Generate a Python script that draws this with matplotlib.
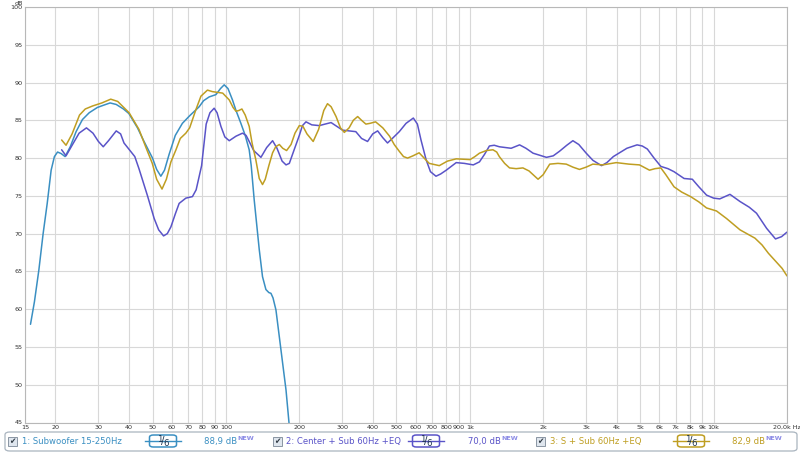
import matplotlib
matplotlib.use("Agg")
import matplotlib.pyplot as plt
from matplotlib.patches import FancyBboxPatch, Rectangle
from matplotlib.lines import Line2D

# ---------------- data ----------------
sub_freq = [15.8, 16.4, 17.1, 17.8, 18.5, 19.2, 19.8, 20.4, 21.1, 21.9, 23.0, 24.3, 25.8,
            27.5, 29.7, 31.5, 33.5, 35.5, 38.0, 40.0, 43.4, 46.0, 50.0, 52.0, 54.1, 56.0,
            58.5, 62.0, 66.3, 71.0, 77.7, 81.0, 85.4, 91.0, 95.0, 98.4, 102.0, 106.4,
            110.0, 115.2, 120.0, 124.6, 127.0, 130.6, 137.0, 141.3, 145.9, 150.0, 153.0,
            156.0, 160.4, 168.2, 176.4, 182.0]
sub_db = [58.0, 61.0, 65.2, 70.0, 74.0, 78.4, 80.2, 80.8, 80.6, 80.2, 81.5, 83.5, 85.1,
          86.0, 86.7, 87.0, 87.3, 87.1, 86.5, 85.9, 84.0, 82.3, 80.0, 78.5, 77.6, 78.4,
          80.5, 83.0, 84.6, 85.6, 86.8, 87.6, 88.1, 88.4, 89.2, 89.7, 89.2, 87.7,
          86.3, 84.6, 83.0, 81.1, 79.0, 74.5, 67.9, 64.3, 62.6, 62.2, 62.1,
          61.5, 59.9, 54.6, 49.3, 44.5]

ctr_freq = [21.2, 22.1, 23.5, 25.0, 26.8, 28.5, 30.0, 31.4, 33.0, 35.5, 37.0, 38.2, 42.3,
            44.0, 47.7, 50.8, 53.0, 55.5, 57.5, 59.5, 62.0, 64.3, 68.5, 72.9, 75.5, 79.5,
            83.0, 86.0, 89.5, 92.0, 95.4, 99.0, 103.2, 110.0, 117.0, 121.0, 124.6, 130.0,
            139.2, 147.0, 155.4, 162.0, 170.0, 176.4, 182.0, 190.0, 200.0, 206.0, 213.0,
            225.0, 241.7, 255.0, 270.0, 285.0, 301.0, 320.0, 341.0, 360.0, 381.0, 400.0,
            419.0, 440.0, 460.0, 485.0, 514.0, 548.0, 587.0, 610.0, 631.0, 662.0, 690.0,
            727.0, 760.0, 801.0, 880.0, 950.0, 1034.0, 1096.0, 1150.0, 1204.0, 1260.0,
            1322.0, 1478.0, 1601.0, 1700.0, 1818.0, 2063.0, 2200.0, 2333.0, 2500.0, 2648.0,
            2800.0, 3003.0, 3200.0, 3470.0, 3650.0, 3880.0, 4410.0, 4855.0, 5100.0, 5349.0,
            5700.0, 6077.0, 6500.0, 6882.0, 7568.0, 8180.0, 8700.0, 9355.0, 10000.0,
            10600.0, 11673.0, 12836.0, 14000.0, 14999.0, 16500.0, 17940.0, 19000.0, 20000.0]
ctr_db = [81.1, 80.3, 81.8, 83.3, 84.0, 83.3, 82.2, 81.5, 82.3, 83.6, 83.2, 82.0, 80.2,
          78.6, 75.0, 72.0, 70.5, 69.7, 70.0, 70.9, 72.6, 74.0, 74.7, 74.9, 75.8, 79.0,
          84.5, 86.0, 86.6, 86.0, 84.2, 82.8, 82.3, 82.9, 83.3, 83.0, 82.2, 81.0,
          80.1, 81.4, 82.3, 81.3, 79.6, 79.1, 79.3, 81.0, 83.0, 84.3, 84.8,
          84.4, 84.3, 84.5, 84.7, 84.2, 83.7, 83.6, 83.5, 82.6, 82.2, 83.2,
          83.6, 82.7, 82.0, 82.7, 83.5, 84.6, 85.3, 84.5, 82.4, 79.8, 78.2,
          77.6, 77.9, 78.4, 79.4, 79.3, 79.1, 79.5, 80.5, 81.6, 81.7,
          81.5, 81.3, 81.75, 81.3, 80.65, 80.1, 80.3, 80.9, 81.7, 82.3,
          81.8, 80.65, 79.7, 79.0, 79.4, 80.2, 81.3, 81.75, 81.6, 81.2,
          80.0, 78.9, 78.6, 78.2, 77.3, 77.2, 76.2, 75.1, 74.7,
          74.6, 75.2, 74.25, 73.5, 72.7, 70.7, 69.3, 69.6, 70.2]

sur_freq = [21.2, 22.1, 23.4, 25.1, 26.5, 28.4, 31.0, 33.7, 36.0, 40.1, 44.0, 47.0, 49.9,
            52.0, 54.7, 57.0, 59.5, 62.4, 65.0, 68.5, 71.0, 75.3, 79.0, 84.0, 88.0, 92.4,
            97.0, 103.2, 107.0, 110.0, 113.0, 116.3, 120.0, 124.6, 128.0, 132.6, 137.0,
            141.3, 145.0, 150.0, 155.4, 160.0, 165.6, 171.0, 177.4, 185.0, 192.0, 200.0,
            207.0, 215.0, 228.0, 240.0, 252.0, 261.0, 270.0, 283.0, 295.0, 306.0, 320.0,
            333.0, 347.0, 360.0, 375.0, 390.0, 411.0, 440.0, 469.0, 490.0, 514.0, 535.0,
            556.0, 585.0, 620.0, 650.0, 682.0, 750.0, 810.0, 880.0, 1003.0, 1050.0,
            1096.0, 1170.0, 1245.0, 1290.0, 1322.0, 1390.0, 1456.0, 1550.0, 1652.0,
            1750.0, 1906.0, 2000.0, 2128.0, 2300.0, 2488.0, 2650.0, 2818.0, 3000.0,
            3196.0, 3513.0, 3987.0, 4500.0, 4967.0, 5459.0, 5750.0, 6077.0, 6370.0,
            6882.0, 7400.0, 8050.0, 8700.0, 9355.0, 10280.0, 11300.0, 12836.0, 14780.0,
            15800.0, 16780.0, 19100.0, 20000.0]
sur_db = [82.4, 81.7, 83.2, 85.7, 86.5, 86.9, 87.3, 87.8, 87.5, 86.0, 83.8, 81.4, 79.3,
          77.2, 75.9, 77.2, 79.5, 81.1, 82.6, 83.3, 84.0, 86.4, 88.2, 89.0, 88.8, 88.7,
          88.6, 87.7, 86.7, 86.2, 86.3, 86.5, 85.7, 84.2, 82.0, 79.8, 77.3,
          76.5, 77.2, 79.0, 80.7, 81.5, 81.8, 81.3, 81.0, 81.8, 83.3, 84.3,
          84.2, 83.2, 82.2, 83.8, 86.3, 87.2, 86.8, 85.5, 84.0, 83.4, 84.0,
          85.0, 85.5, 85.0, 84.5, 84.6, 84.8, 84.0, 82.9, 81.8, 80.9, 80.2,
          80.0, 80.3, 80.7, 80.0, 79.3, 79.0, 79.6, 79.9, 79.8, 80.2,
          80.65, 81.0, 81.1, 80.8, 80.2, 79.3, 78.7, 78.6, 78.7,
          78.3, 77.2, 77.8, 79.2, 79.3, 79.2, 78.8, 78.5, 78.8,
          79.2, 79.1, 79.4, 79.2, 79.1, 78.4, 78.6, 78.7, 77.8,
          76.2, 75.5, 74.9, 74.2, 73.4, 73.0, 72.0, 70.5, 69.4,
          68.5, 67.4, 65.4, 64.4]

tick_freqs = [15, 20, 30, 40, 50, 60, 70, 80, 90, 100, 200, 300, 400, 500, 600, 700, 800,
              900, 1000, 2000, 3000, 4000, 5000, 6000, 7000, 8000, 9000, 10000, 20000]
tick_labels = ["15", "20", "30", "40", "50", "60", "70", "80", "90", "100", "200", "300",
               "400", "500", "600", "700", "800", "900", "1k", "2k", "3k", "4k", "5k",
               "6k", "7k", "8k", "9k", "10k", "20,0k Hz"]
y_ticks = [45, 50, 55, 60, 65, 70, 75, 80, 85, 90, 95, 100]

legend_names = ["1: Subwoofer 15-250Hz", "2: Center + Sub 60Hz +EQ", "3: S + Sub 60Hz +EQ"]
legend_levels = ["88,9 dB", "70,0 dB", "82,9 dB"]

# ---------------- style ----------------
C_SUB = "#3a8fc2"
C_CTR = "#5a54c8"
C_SUR = "#bf9e22"
GRID = "#d8d8d8"
TXT = "#333333"

W, H = 800, 453
fig = plt.figure(figsize=(W / 100, H / 100), dpi=100)
fig.patch.set_facecolor("white")

left, right, top, bottom = 25, 787, 7, 422.5
ax = fig.add_axes([left / W, (H - bottom) / H, (right - left) / W, (bottom - top) / H])
ax.set_xscale("log")
ax.set_xlim(15, 20000)
ax.set_ylim(45, 100)

kw = dict(lw=1.1, solid_joinstyle="round", solid_capstyle="round")
ax.plot(sub_freq, sub_db, color=C_SUB, **kw)
ax.plot(ctr_freq, ctr_db, color=C_CTR, **kw)
ax.plot(sur_freq, sur_db, color=C_SUR, **kw)

ax.set_xticks(tick_freqs)
ax.set_xticklabels(tick_labels)
ax.xaxis.set_minor_locator(matplotlib.ticker.NullLocator())
ax.set_yticks(y_ticks)
ax.set_yticklabels([str(v) for v in y_ticks])
ax.tick_params(axis="both", length=0, labelsize=4.6, colors=TXT)
ax.tick_params(axis="x", pad=1.5)
ax.tick_params(axis="y", pad=1.8)
ax.grid(True, which="major", color=GRID, lw=0.8)
ax.set_axisbelow(True)
for s in ax.spines.values():
    s.set_color("#b8b8b8")
    s.set_linewidth(0.8)

fig.text(19 / W, 1 - 1 / H, "dB", fontsize=4.6, color=TXT, ha="center", va="top")

# ---------------- legend strip ----------------
def fx(x):
    return x / W

def fy(y):
    return 1 - y / H

box = FancyBboxPatch((fx(5), fy(451)), fx(797) - fx(5), fy(432) - fy(451),
                     boxstyle="round,pad=0,rounding_size=0.006",
                     transform=fig.transFigure, facecolor="white",
                     edgecolor="#a9b4bf", lw=0.9)
fig.patches.append(box)

items = [
    (7.5, 21.5, 145, 181, 203.5, C_SUB),
    (272.5, 286, 408, 444, 468, C_CTR),
    (536, 550, 673, 709, 732, C_SUR),
]
yc = 441.5
FR = "#1f3550"
for i, (cbx, tx, fb0, fb1, lvx, col) in enumerate(items):
    # checkbox
    cb = Rectangle((fx(cbx), fy(446)), fx(9), 9 / H, transform=fig.transFigure,
                   facecolor="#dfe6ee", edgecolor="#8a96a3", lw=0.7)
    fig.patches.append(cb)
    fig.text(fx(cbx + 4.5), fy(yc), "\u2714", fontsize=5.5, color="#303a44",
             ha="center", va="center")
    # name
    fig.text(fx(tx), fy(yc), legend_names[i], fontsize=6.1, color=col,
             ha="left", va="center")
    # smoothing box
    bx0, bx1 = fb0 + 4.5, fb1 - 4.5
    fig.add_artist(Line2D([fx(fb0), fx(fb1)], [fy(441), fy(441)], color=col, lw=1.0,
                          transform=fig.transFigure))
    sb = FancyBboxPatch((fx(bx0), fy(447)), fx(bx1 - bx0), 12 / H,
                        boxstyle="round,pad=0,rounding_size=0.005",
                        transform=fig.transFigure, facecolor="white",
                        edgecolor=col, lw=1.1)
    fig.patches.append(sb)
    cx = (bx0 + bx1) / 2
    fig.text(fx(cx - 3.2), fy(439.3), "1", fontsize=6.2, color=FR,
             ha="center", va="center")
    fig.text(fx(cx), fy(441.2), "/", fontsize=7.5, color=FR,
             ha="center", va="center")
    fig.text(fx(cx + 3.4), fy(443.0), "6", fontsize=6.2, color=FR,
             ha="center", va="center")
    # level
    fig.text(fx(lvx), fy(yc), legend_levels[i], fontsize=6.1, color=col,
             ha="left", va="center")
    fig.text(fx(lvx + 33.5), fy(438.5), "NEW", fontsize=4.6, color="#8c8ce6",
             ha="left", va="center", fontweight="bold")

fig.savefig("out.png", dpi=100, facecolor="white")
